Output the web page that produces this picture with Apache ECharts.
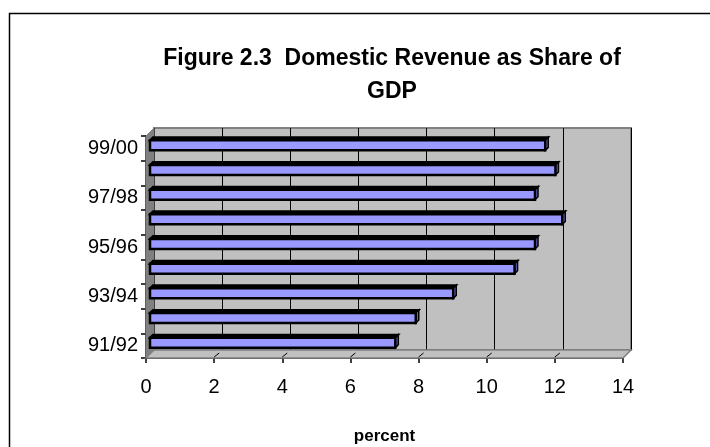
<!DOCTYPE html>
<html>
<head>
<meta charset="utf-8">
<script src="https://cdn.jsdelivr.net/npm/echarts@6/dist/echarts.min.js"></script>
<style>
  html, body { margin: 0; padding: 0; background: #fff; }
  #chart { width: 710px; height: 447px; }
</style>
</head>
<body>
<div id="chart"></div>
<script>
// data
var years = ["91/92", "92/93", "93/94", "94/95", "95/96", "96/97", "97/98", "98/99", "99/00"];
var revenueShare = [7.2, 7.8, 8.9, 10.7, 11.3, 12.1, 11.3, 11.9, 11.6];
var tickValues = [0, 2, 4, 6, 8, 10, 12, 14];

// front plane of the "3d" plot and depth offset of the back wall
var FRONT = { left: 146, top: 136, width: 477, height: 222 };
var DEPTH = 8;

var chart = echarts.init(document.getElementById("chart"));

function bar3d(params, api) {
  var idx = api.value(1);
  var start = api.coord([0, idx]);
  var end = api.coord([api.value(0), idx]);
  var s = DEPTH / 2; // bars sit half way into the depth
  var d = 3; // bar's own depth
  var h = 10;
  var x0 = start[0] + s, x1 = end[0] + s;
  var yTop = start[1] - s - h / 2 + 1, yBot = yTop + h;
  return {
    type: "group",
    children: [
      {
        type: "polygon",
        shape: { points: [[x0, yTop], [x1, yTop], [x1 + d, yTop - d], [x0 + d, yTop - d]] },
        style: { fill: "#000", stroke: "#000", lineWidth: 2 }
      },
      {
        type: "polygon",
        shape: { points: [[x1, yTop], [x1 + d, yTop - d], [x1 + d, yBot - d], [x1, yBot]] },
        style: { fill: "#6666cc", stroke: "#000", lineWidth: 1.5 }
      },
      {
        type: "rect",
        shape: { x: x0, y: yTop, width: x1 - x0, height: h },
        style: { fill: "#9999ff", stroke: "#000", lineWidth: 2.5 }
      }
    ]
  };
}

var option = {
  animation: false,
  backgroundColor: "#fff",
  title: {
    text: "Figure 2.3  Domestic Revenue as Share of\nGDP",
    left: 387,
    top: 37,
    textAlign: "center",
    textStyle: {
      fontFamily: "Liberation Sans",
      fontWeight: "bold",
      fontSize: 23,
      lineHeight: 33,
      color: "#000"
    }
  },
  grid: [
    {
      // back wall
      left: FRONT.left + DEPTH,
      top: FRONT.top - DEPTH,
      width: FRONT.width,
      height: FRONT.height,
      show: true,
      backgroundColor: "#c0c0c0",
      borderColor: "#808080",
      borderWidth: 2
    },
    {
      left: FRONT.left,
      top: FRONT.top,
      width: FRONT.width,
      height: FRONT.height
    }
  ],
  xAxis: [
    {
      gridIndex: 0,
      type: "value",
      min: 0,
      max: 14,
      interval: 2,
      axisLine: { show: false },
      axisTick: { show: false },
      axisLabel: { show: false },
      splitLine: { show: true, lineStyle: { color: "#000", width: 1 } }
    },
    {
      gridIndex: 1,
      type: "value",
      min: 0,
      max: 14,
      interval: 2,
      name: "percent",
      nameLocation: "middle",
      nameGap: 70,
      nameTextStyle: { fontFamily: "Liberation Sans", fontWeight: "bold", fontSize: 17, color: "#000" },
      axisLine: { show: true, lineStyle: { color: "#000", width: 1.5 } },
      axisTick: { show: true, length: 5, lineStyle: { color: "#000", width: 1.5 } },
      axisLabel: { fontFamily: "Liberation Sans", fontSize: 20, color: "#000", margin: 19 },
      splitLine: { show: false }
    }
  ],
  yAxis: [
    {
      gridIndex: 0,
      type: "category",
      data: years,
      show: false
    },
    {
      gridIndex: 1,
      type: "category",
      data: years,
      axisLine: { show: true, lineStyle: { color: "#000", width: 1.5 } },
      axisTick: { show: true, interval: 0, length: 5, lineStyle: { color: "#000", width: 1.5 } },
      axisLabel: { interval: 1, fontFamily: "Liberation Sans", fontSize: 20, color: "#000", margin: 8 },
      splitLine: { show: false }
    }
  ],
  series: [
    {
      type: "custom",
      xAxisIndex: 1,
      yAxisIndex: 1,
      renderItem: bar3d,
      encode: { x: 0, y: 1 },
      data: revenueShare.map(function (v, i) { return [v, i]; }),
      z: 5
    }
  ]
};

chart.setOption(option);

// walls, floor and frame, placed from the axes' own pixel positions
var xb0 = chart.convertToPixel({ xAxisIndex: 1 }, 0);
var xb1 = chart.convertToPixel({ xAxisIndex: 1 }, 14);
var yFront = FRONT.top + FRONT.height;
var floorMarks = tickValues.slice(1, -1).map(function (t) {
  var x = chart.convertToPixel({ xAxisIndex: 1 }, t);
  return {
    type: "line",
    shape: { x1: x, y1: yFront - 1, x2: x + 5, y2: yFront - 5 },
    style: { stroke: "#000", lineWidth: 1 },
    z: 3
  };
});

chart.setOption({
  graphic: [
    {
      type: "rect",
      shape: { x: 9.5, y: 13.5, width: 720, height: 460 },
      style: { fill: null, stroke: "#000", lineWidth: 1.5 },
      silent: true
    },
    {
      type: "polygon",
      shape: { points: [[xb0, yFront], [xb1, yFront], [xb1 + DEPTH, yFront - DEPTH], [xb0 + DEPTH, yFront - DEPTH]] },
      style: { fill: "#c0c0c0", stroke: "#808080", lineWidth: 1.5 },
      z: 2
    },
    {
      type: "polygon",
      shape: { points: [[xb0, FRONT.top], [xb0 + DEPTH, FRONT.top - DEPTH], [xb0 + DEPTH, yFront - DEPTH], [xb0, yFront]] },
      style: { fill: "#808080", stroke: "#808080", lineWidth: 1 },
      z: 2
    }
  ].concat(floorMarks)
});
</script>
</body>
</html>
